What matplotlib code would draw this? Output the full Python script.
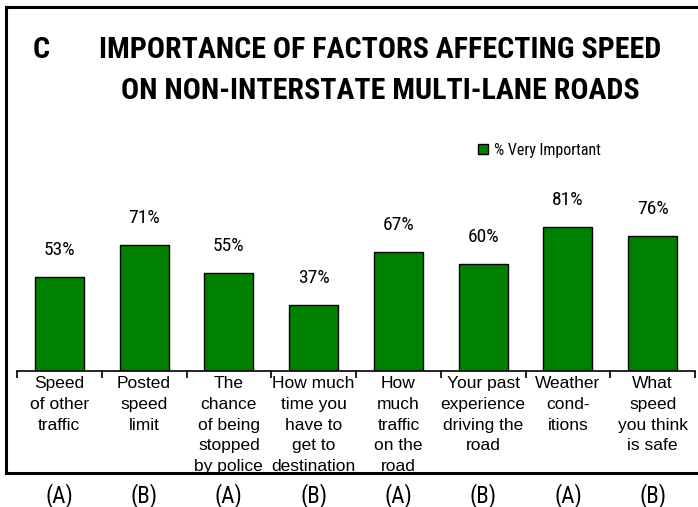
import matplotlib
matplotlib.use("Agg")
import matplotlib.pyplot as plt
from matplotlib.lines import Line2D

categories = [
    "Speed\nof other\ntraffic",
    "Posted\nspeed\nlimit",
    "The\nchance\nof being\nstopped\nby police",
    "How much\ntime you\nhave to\nget to\ndestination",
    "How\nmuch\ntraffic\non the\nroad",
    "Your past\nexperience\ndriving the\nroad",
    "Weather\ncond-\nitions",
    "What\nspeed\nyou think\nis safe",
]
groups = ["(A)", "(B)", "(A)", "(B)", "(A)", "(B)", "(A)", "(B)"]
very_important = [53, 71, 55, 37, 67, 60, 81, 76]
series_name = "% Very Important"
title_letter = "C"
title_line1 = "IMPORTANCE OF FACTORS AFFECTING SPEED"
title_line2 = "ON NON-INTERSTATE MULTI-LANE ROADS"

NARROW_FAM = ["Roboto Condensed", "Archivo Narrow", "Liberation Sans", "DejaVu Sans"]
NARROW = dict(family=NARROW_FAM)
REG = ["Liberation Sans", "DejaVu Sans"]
GREEN = "#008000"

W, H = 698, 507
fig = plt.figure(figsize=(W / 100, H / 100), dpi=100)

def fx(px):
    return px / W

def fy(py):
    return 1 - py / H

# frame
for (x0, y0, x1, y1) in [(6, 7, 6, 473), (6, 7, 698, 7), (6, 473, 698, 473)]:
    fig.add_artist(Line2D([fx(x0), fx(x1)], [fy(y0), fy(y1)], color="black", lw=2.2,
                          transform=fig.transFigure, solid_capstyle="projecting", zorder=5))

ax = fig.add_axes([fx(17), fy(371), fx(695) - fx(17), fy(193) - fy(371)])
x = list(range(len(categories)))
bars = ax.bar(x, very_important, width=0.58, color=GREEN, edgecolor="black", linewidth=1.0,
              label=series_name)
ax.set_xlim(-0.5, len(categories) - 0.5)
ax.set_ylim(0, 100)
for s in ["top", "right", "left"]:
    ax.spines[s].set_visible(False)
ax.spines["bottom"].set_linewidth(1.2)
ax.set_yticks([])
ax.set_xticks([i - 0.5 for i in range(len(categories) + 1)])
ax.set_xticklabels([])
ax.tick_params(axis="x", direction="out", length=5, width=1.2)

PT = 0.72  # points per pixel at dpi 100

for xi, v in zip(x, very_important):
    ax.annotate(f"{v}%", (xi, v), xytext=(0, 18 * PT), textcoords="offset points",
                ha="center", va="bottom", fontsize=14, **NARROW)

for xi, lab in zip(x, categories):
    ax.annotate(lab, (xi, 0), xytext=(0, -5 * PT), textcoords="offset points",
                ha="center", va="top", fontsize=12.5, family=REG, linespacing=1.48,
                annotation_clip=False)

for xi, g in zip(x, groups):
    ax.annotate(g, (xi, 0), xytext=(0, -(496 - 371) * PT), textcoords="offset points",
                ha="center", va="center", fontsize=16.5, annotation_clip=False, **NARROW)

# title
fig.text(fx(41), fy(50), title_letter, ha="center", va="center", fontsize=21.6,
         fontweight="bold", **NARROW)
fig.text(fx(380), fy(50), title_line1, ha="center", va="center", fontsize=21.6,
         fontweight="bold", **NARROW)
fig.text(fx(380), fy(91), title_line2, ha="center", va="center", fontsize=21.6,
         fontweight="bold", **NARROW)

# legend
fig.legend(handles=[bars], labels=[series_name], loc="center left",
           bbox_to_anchor=(fx(478), fy(150)), frameon=False,
           prop={"family": NARROW_FAM, "size": 11.5},
           handlelength=0.6, handleheight=0.6,
           handletextpad=0.4, borderaxespad=0, borderpad=0)

fig.savefig("out.png", dpi=100)
